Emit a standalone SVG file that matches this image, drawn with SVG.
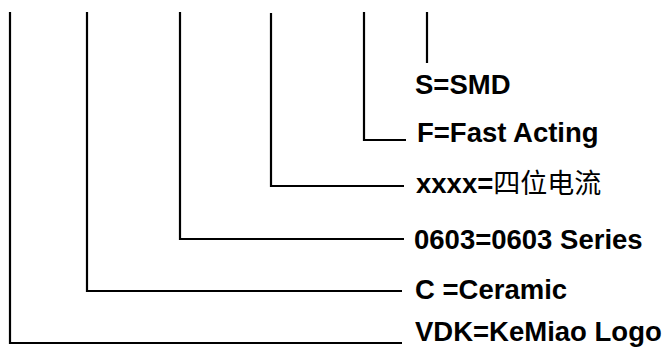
<svg xmlns="http://www.w3.org/2000/svg" width="669" height="352" viewBox="0 0 669 352">
<style>
.c{fill:none;stroke:#000;stroke-width:2.2;stroke-linecap:butt;stroke-linejoin:miter}
.t{font-family:"Liberation Sans",Arial,sans-serif;font-weight:bold;font-size:27.5px;fill:#000}
.cjk{font-family:"Noto Sans CJK SC",sans-serif;font-weight:normal;font-size:27px}
</style>
<rect width="669" height="352" fill="#fff"/>
<g id="connectors">
<path class="c" d="M427,12 V63"/>
<path class="c" d="M364,12 V140 H406"/>
<path class="c" d="M271,13 V186 H404"/>
<path class="c" d="M180,12 V239 H404"/>
<path class="c" d="M87,12 V291 H402"/>
<path class="c" d="M10,12 V343 H402"/>
</g>
<g id="n-smd"><text class="t" x="415" y="94" font-size="26.5">S=SMD</text></g>
<g id="n-fast"><text class="t" x="417" y="142" font-size="27.2">F=Fast Acting</text></g>
<g id="n-current"><text class="t" x="416" y="193">xxxx=<tspan class="cjk">四位电流</tspan></text></g>
<g id="n-series"><text class="t" x="414" y="249" font-size="28.2">0603=0603 Series</text></g>
<g id="n-ceramic"><text class="t" x="415" y="299" font-size="28.2">C =Ceramic</text></g>
<g id="n-logo"><text class="t" x="415" y="341" font-size="27.7">VDK=KeMiao Logo</text></g>
</svg>
